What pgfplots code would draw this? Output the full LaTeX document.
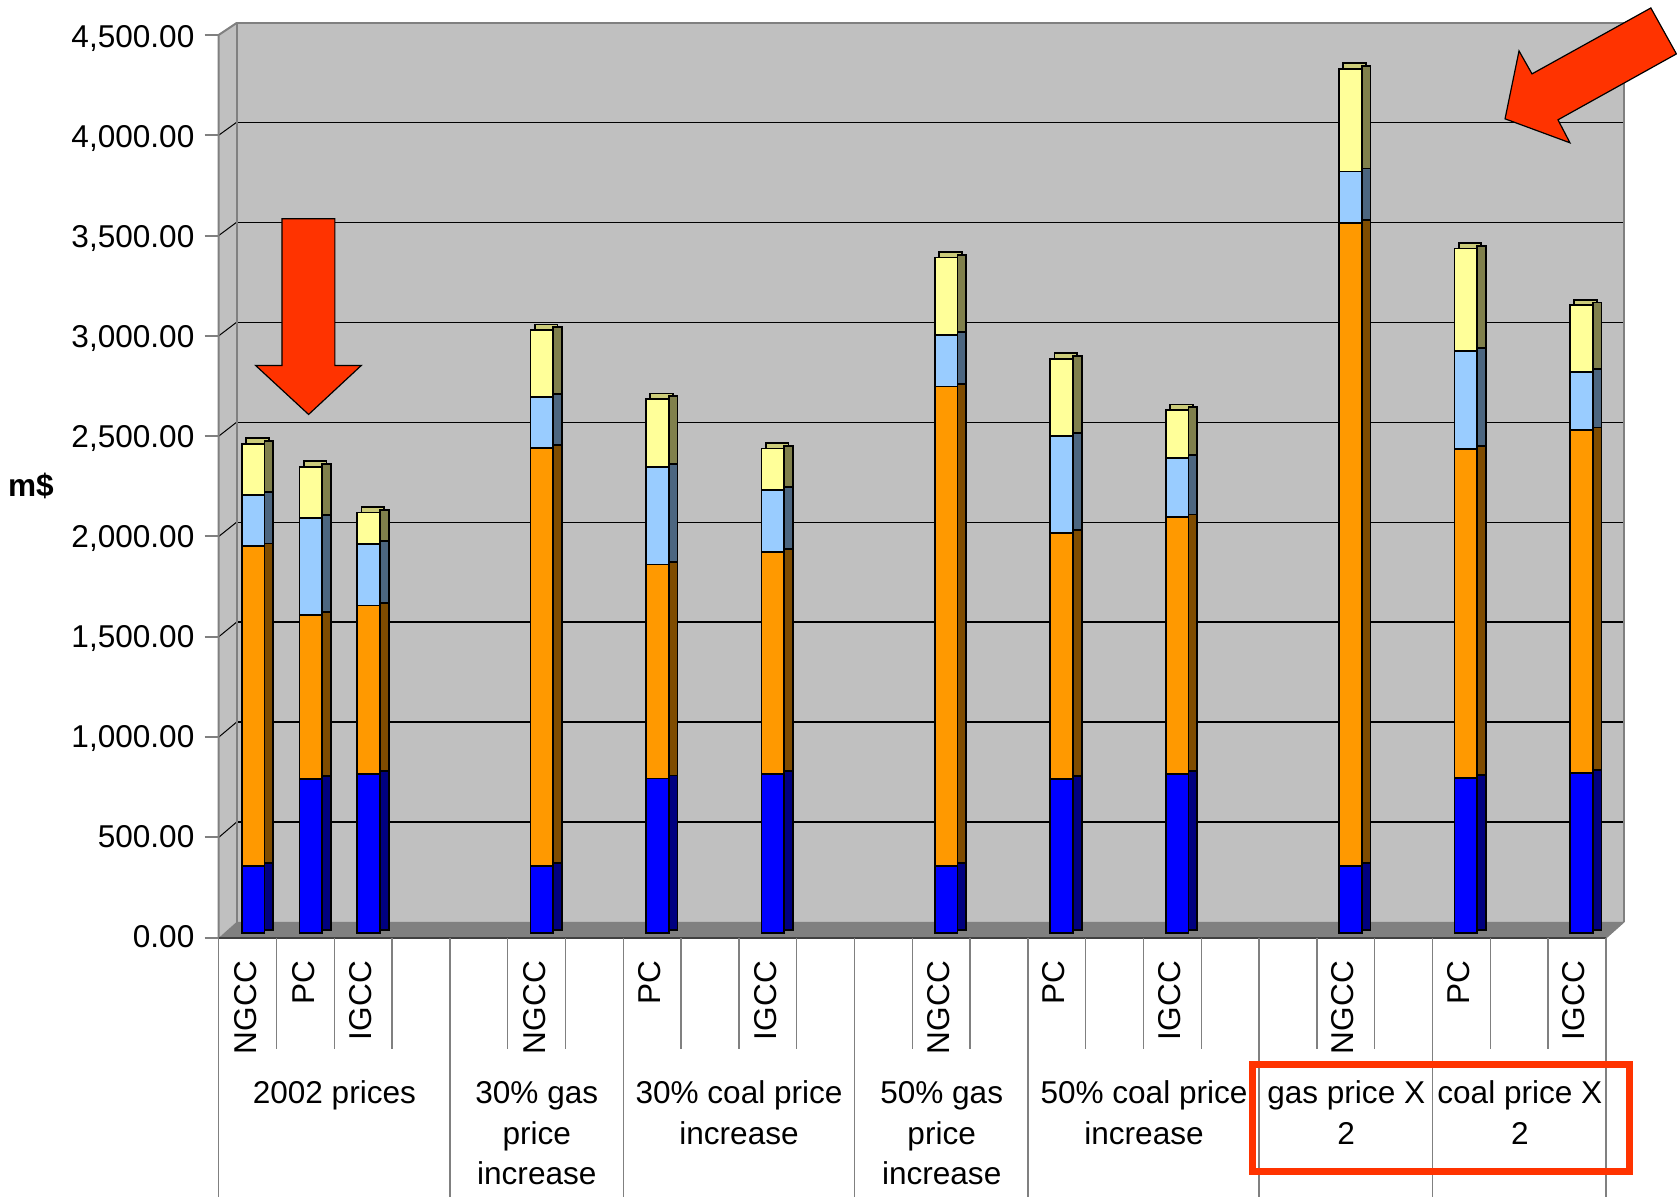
\documentclass[border=0pt]{standalone}
\usepackage{fontspec}
\setmainfont{Liberation Sans}
\usepackage{pgfplots}
\usepackage{pgfplotstable}
\pgfplotsset{compat=1.18}
\definecolor{cA}{HTML}{0000FF}
\definecolor{cB}{HTML}{FF9900}
\definecolor{cC}{HTML}{99CCFF}
\definecolor{cD}{HTML}{FFFF99}
\definecolor{sA}{HTML}{000080}
\definecolor{sB}{HTML}{7F4C00}
\definecolor{sC}{HTML}{4C6680}
\definecolor{sD}{HTML}{80804C}
\definecolor{tD}{HTML}{CCCC7A}
\definecolor{wall}{HTML}{C0C0C0}
\definecolor{floorc}{HTML}{808080}
\definecolor{edge}{HTML}{808080}
\definecolor{arrowred}{HTML}{FF3300}

\pgfplotstableread{
x a b c d
0 335 1598 258 254
1 770 819 487 254
2 793 844 307 158
5 333 2091 255 335
7 772 1070 489 338
9 796 1109 311 206
12 333 2399 258 387
14 770 1229 487 385
16 795 1283 297 239
19 333 3218 257 513
21 773 1648 488 513
23 798 1715 293 332
}\data

\pgfplotsset{
  base/.style={
    scale only axis, width=693.85pt, height=450.45pt,
    at={(112.3pt,132.5pt)}, anchor=south west,
    xmin=-0.5, xmax=23.5, ymin=0, ymax=4500,
    clip=false,
  },
}
\newcommand{\tf}{\fontsize{15.8}{19}\selectfont}

\begin{document}
\begin{tikzpicture}
\begin{scope}[x=0.5pt,y=0.5pt]
\useasboundingbox (0,0) rectangle (1677,1199);
\fill[wall] (237,276) rectangle (1626,1176);
\fill[wall] (219,260) -- (219,1164) -- (237,1176) -- (237,276) -- cycle;
\fill[floorc] (219,260) -- (1608,260) -- (1626,276) -- (237,276) -- cycle;
\foreach \v in {500,1000,...,4000} {
  \draw[black, line width=0.6pt] (237,{275.8+0.2002*\v}) -- (1626,{275.8+0.2002*\v});
  \draw[black, line width=0.5pt] (219,{260+0.2009*\v}) -- (237,{275.8+0.2002*\v});
}
\draw[edge, line width=1pt] (237,276) -- (237,1176) -- (1626,1176) -- (1626,276);
\draw[edge, line width=1pt] (219,260) -- (219,1164) -- (237,1176);
\draw[edge, line width=0.8pt] (1608,260) -- (1626,276);
\foreach \v in {0,500,...,4500} \draw[edge, line width=1pt] (205,{260+0.2009*\v}) -- (219,{260+0.2009*\v});
\draw[black!75, line width=1pt] (219,260) -- (1608,260);
\foreach \k in {1,2,3,5,6,8,9,10,12,13,15,16,17,19,20,22,23}
  \draw[edge, line width=0.7pt] ({219+57.875*\k},260) -- ({219+57.875*\k},149);
\foreach \k in {0,4,7,11,14,18,21,24}
  \draw[edge, line width=0.7pt] ({219+57.875*\k},260) -- ({219+57.875*\k},0);
\end{scope}

% top faces
\begin{axis}[base, hide axis, ybar stacked, bar width=11.35pt, bar shift=0pt]
\addplot[draw=none, fill=none] table[x=x,y=a]{\data};
\addplot[draw=none, fill=none] table[x=x,y=b]{\data};
\addplot[draw=none, fill=none] table[x=x,y=c]{\data};
\addplot[fill=tD, draw=black, line width=0.9pt, xshift=2.1pt, yshift=2.85pt] table[x=x,y=d]{\data};
\end{axis}

% side faces
\begin{axis}[base, hide axis, ybar stacked, bar width=4.4pt, bar shift=7.875pt]
\addplot[fill=sA, draw=black, line width=0.9pt, yshift=1.425pt] table[x=x,y=a]{\data};
\addplot[fill=sB, draw=black, line width=0.9pt, yshift=1.425pt] table[x=x,y=b]{\data};
\addplot[fill=sC, draw=black, line width=0.9pt, yshift=1.425pt] table[x=x,y=c]{\data};
\addplot[fill=sD, draw=black, line width=0.9pt, yshift=1.425pt] table[x=x,y=d]{\data};
\end{axis}

% front faces
\begin{axis}[base, ybar stacked, bar width=11.35pt, bar shift=0pt,
  axis line style={draw=none}, tick style={draw=none}, major tick length=0pt,
  ytick={0,500,...,4500}, scaled y ticks=false,
  /pgf/number format/fixed, /pgf/number format/fixed zerofill,
  /pgf/number format/precision=2, /pgf/number format/1000 sep={,},
  /pgf/number format/assume math mode=true,
  yticklabel style={font=\tf, anchor=base east, inner sep=0pt, xshift=-14.8pt, yshift=-7.2pt},
  xtick={0,1,2,5,7,9,12,14,16,19,21,23},
  xticklabels={NGCC,PC,IGCC,NGCC,PC,IGCC,NGCC,PC,IGCC,NGCC,PC,IGCC},
  xticklabel style={font=\tf, inner sep=0pt, xshift=-3.85pt, yshift=-14pt, rotate=90, anchor=east},
]
\addplot[fill=cA, draw=black, line width=0.9pt] table[x=x,y=a]{\data};
\addplot[fill=cB, draw=black, line width=0.9pt] table[x=x,y=b]{\data};
\addplot[fill=cC, draw=black, line width=0.9pt] table[x=x,y=c]{\data};
\addplot[fill=cD, draw=black, line width=0.9pt] table[x=x,y=d]{\data};
\end{axis}

\begin{scope}[x=0.5pt,y=0.5pt, every node/.style={font=\tf, inner sep=0pt}]
\node[anchor=base] at (334.8,94) {2002 prices};
\node[anchor=base] at (537.5,94) {30\% gas};
\node[anchor=base] at (537.5,53.5) {price};
\node[anchor=base] at (537.5,12.5) {increase};
\node[anchor=base] at (740,94) {30\% coal price};
\node[anchor=base] at (740,53.5) {increase};
\node[anchor=base] at (942.9,94) {50\% gas};
\node[anchor=base] at (942.9,53.5) {price};
\node[anchor=base] at (942.9,12.5) {increase};
\node[anchor=base] at (1145.5,94) {50\% coal price};
\node[anchor=base] at (1145.5,53.5) {increase};
\node[anchor=base] at (1348,94) {gas price X};
\node[anchor=base] at (1348,53.5) {2};
\node[anchor=base] at (1521.8,94) {coal price X};
\node[anchor=base] at (1521.8,53.5) {2};
\node[font=\bfseries\tf] at (31,712) {m\$};
\draw[arrowred, line width=3.5pt] (1254,133) rectangle (1632,26);
\filldraw[fill=arrowred, draw=black, line width=0.6pt] (282.3,980) -- (335.3,980) -- (335.3,833) -- (361.7,833) -- (309,784) -- (256,833) -- (282.3,833) -- cycle;
\filldraw[fill=arrowred, draw=black, line width=0.6pt] (1507,1080) -- (1521,1148) -- (1534,1125) -- (1653,1191) -- (1678.6,1145) -- (1560,1079) -- (1572,1056) -- cycle;
\end{scope}
\end{tikzpicture}
\end{document}
